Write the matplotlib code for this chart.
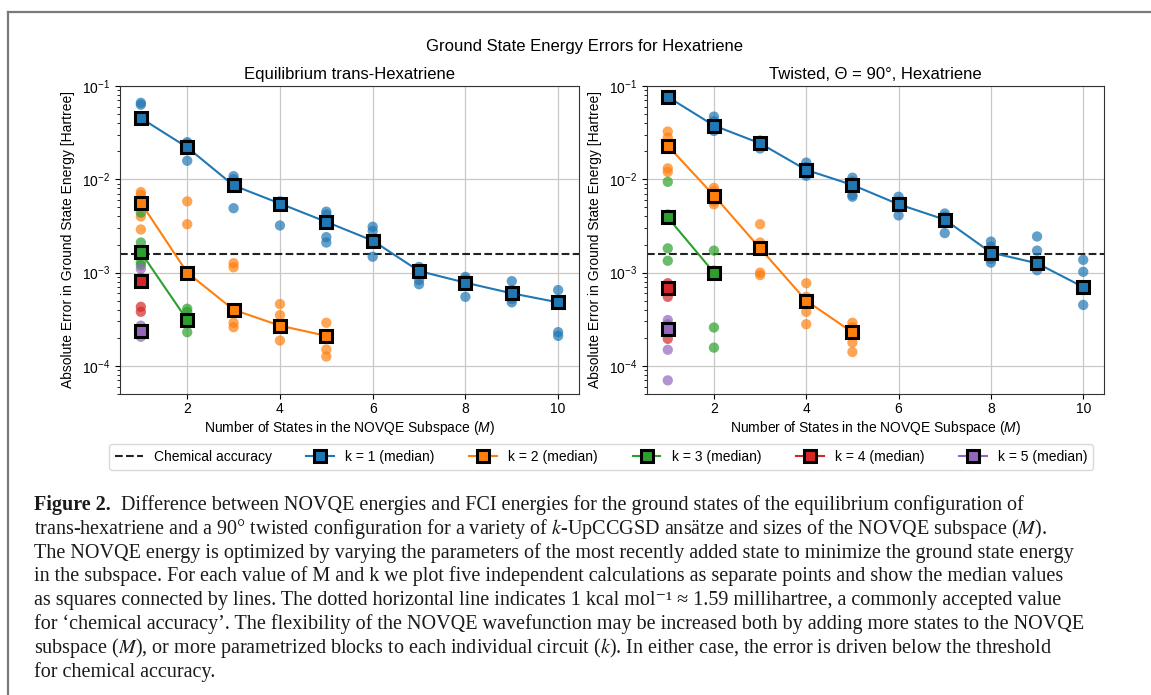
import numpy as np
import matplotlib
matplotlib.use("Agg")
import matplotlib.pyplot as plt
from matplotlib.lines import Line2D

plt.rcParams['font.family'] = ['Liberation Sans', 'DejaVu Sans']
plt.rcParams['font.size'] = 10
plt.rcParams['mathtext.fontset'] = 'custom'
plt.rcParams['mathtext.rm'] = 'Liberation Sans'
plt.rcParams['mathtext.it'] = 'Liberation Sans:italic'
plt.rcParams['mathtext.bf'] = 'Liberation Sans:bold'

# ---------------- data ----------------
chem_acc = 0.0015936

M_k1 = [1, 2, 3, 4, 5, 6, 7, 8, 9, 10]
M_k2 = [1, 2, 3, 4, 5]
M_k3 = [1, 2]
M_k4 = [1]
M_k5 = [1]

# Equilibrium trans-hexatriene: five runs per M
eq_k1 = [[0.066, 0.063, 0.0453, 0.044, 0.043],
         [0.025, 0.024, 0.022, 0.021, 0.0158],
         [0.0108, 0.0100, 0.0086, 0.0083, 0.0049],
         [0.0058, 0.0056, 0.0055, 0.0054, 0.0032],
         [0.0045, 0.0042, 0.0035, 0.0024, 0.0021],
         [0.0031, 0.0028, 0.0022, 0.0021, 0.00148],
         [0.00115, 0.00108, 0.00104, 0.00083, 0.00075],
         [0.00090, 0.00085, 0.00078, 0.00075, 0.00055],
         [0.00081, 0.00065, 0.00060, 0.00052, 0.00048],
         [0.00065, 0.00050, 0.00048, 0.00023, 0.00021]]
eq_k2 = [[0.0073, 0.0068, 0.0056, 0.0040, 0.0029],
         [0.0058, 0.0033, 0.0010, 0.00098, 0.00095],
         [0.00126, 0.00114, 0.00040, 0.00029, 0.00026],
         [0.00046, 0.00035, 0.00027, 0.00025, 0.000187],
         [0.00029, 0.00022, 0.00021, 0.00015, 0.000126]]
eq_k3 = [[0.0044, 0.0021, 0.00165, 0.00129, 0.0012],
         [0.00041, 0.00038, 0.00031, 0.00029, 0.00023]]
eq_k4 = [[0.00088, 0.00083, 0.00081, 0.00043, 0.00038]]
eq_k5 = [[0.0011, 0.00027, 0.000235, 0.00022, 0.000205]]

# Twisted (90 deg) hexatriene
tw_k1 = [[0.080, 0.078, 0.0764, 0.075, 0.074],
         [0.047, 0.042, 0.0377, 0.035, 0.033],
         [0.026, 0.025, 0.0243, 0.023, 0.0214],
         [0.0151, 0.0135, 0.0126, 0.0115, 0.0109],
         [0.0104, 0.0095, 0.0087, 0.0068, 0.0065],
         [0.0065, 0.0058, 0.0054, 0.0050, 0.0041],
         [0.0043, 0.0040, 0.0037, 0.0034, 0.00265],
         [0.00215, 0.0019, 0.00164, 0.0014, 0.00128],
         [0.00244, 0.00172, 0.00126, 0.0012, 0.00106],
         [0.00137, 0.00102, 0.00070, 0.00066, 0.00045]]
tw_k2 = [[0.0325, 0.028, 0.0229, 0.0131, 0.012],
         [0.0081, 0.0075, 0.0067, 0.0058, 0.0054],
         [0.0033, 0.0021, 0.00182, 0.00100, 0.00094],
         [0.00077, 0.00055, 0.00050, 0.00038, 0.00028],
         [0.00029, 0.00026, 0.000229, 0.000178, 0.000141]]
tw_k3 = [[0.0094, 0.0042, 0.0039, 0.00182, 0.00134],
         [0.00172, 0.00105, 0.00100, 0.000258, 0.000157]]
tw_k4 = [[0.00077, 0.00072, 0.00068, 0.00055, 0.000195]]
tw_k5 = [[0.00031, 0.00028, 0.00025, 0.000149, 0.00007]]

k_labels = ['k = 1 (median)', 'k = 2 (median)', 'k = 3 (median)',
            'k = 4 (median)', 'k = 5 (median)']
colors = ['tab:blue', 'tab:orange', 'tab:green', 'tab:red', 'tab:purple']

suptitle = 'Ground State Energy Errors for Hexatriene'
titles = ['Equilibrium trans-Hexatriene', 'Twisted, Θ = 90°, Hexatriene']
xlabel = 'Number of States in the NOVQE Subspace ($M$)'
ylabel = 'Absolute Error in Ground State Energy [Hartree]'

caption_lines = [
    "Difference between NOVQE energies and FCI energies for the ground states of the equilibrium configuration of",
    "trans-hexatriene and a 90° twisted configuration for a variety of $k$-UpCCGSD ansätze and sizes of the NOVQE subspace ($M$).",
    "The NOVQE energy is optimized by varying the parameters of the most recently added state to minimize the ground state energy",
    "in the subspace. For each value of M and k we plot five independent calculations as separate points and show the median values",
    "as squares connected by lines. The dotted horizontal line indicates 1 kcal mol⁻¹ ≈ 1.59 millihartree, a commonly accepted value",
    "for ‘chemical accuracy’. The flexibility of the NOVQE wavefunction may be increased both by adding more states to the NOVQE",
    "subspace ($M$), or more parametrized blocks to each individual circuit ($k$). In either case, the error is driven below the threshold",
    "for chemical accuracy.",
]

# ---------------- figure ----------------
W, H = 1151, 695
fig = plt.figure(figsize=(W / 100, H / 100), dpi=100)


def fx(x):
    return x / W


def fy(y):
    return 1 - y / H


ax_l = fig.add_axes([fx(120), fy(394), fx(579) - fx(120), fy(86) - fy(394)])
ax_r = fig.add_axes([fx(647), fy(394), fx(1104) - fx(647), fy(86) - fy(394)])

panels = [
    (ax_l, [eq_k1, eq_k2, eq_k3, eq_k4, eq_k5]),
    (ax_r, [tw_k1, tw_k2, tw_k3, tw_k4, tw_k5]),
]
Ms = [M_k1, M_k2, M_k3, M_k4, M_k5]

handles = []
for ai, (ax, series) in enumerate(panels):
    hl = ax.axhline(chem_acc, color='#222222', ls='--', lw=1.5, zorder=2,
                    label='Chemical accuracy')
    if ai == 0:
        handles.append(hl)
    for ki, (Mv, runs) in enumerate(zip(Ms, series)):
        c = colors[ki]
        for m, vals in zip(Mv, runs):
            ax.scatter([m] * len(vals), vals, s=55, color=c, alpha=0.7,
                       edgecolors='none', zorder=3)
        med = [np.median(v) for v in runs]
        ln, = ax.plot(Mv, med, '-', color=c, lw=1.5, marker='s', ms=9,
                      mfc=c, mec='black', mew=2.2, zorder=4, label=k_labels[ki])
        if ai == 0:
            handles.append(ln)
    ax.set_yscale('log')
    ax.set_ylim(5e-5, 0.1)
    ax.set_xlim(0.55, 10.45)
    ax.set_xticks([2, 4, 6, 8, 10])
    ax.grid(True, which='major', color='#c8c8c8', lw=0.9)
    ax.set_axisbelow(True)
    ax.set_title(titles[ai], fontsize=12, pad=5)
    ax.set_xlabel(xlabel, fontsize=10, labelpad=2)
    ax.set_ylabel(ylabel, fontsize=10, labelpad=5)
    ax.tick_params(labelsize=10)
    ax.tick_params(axis='x', pad=2.5)
    for sp in ax.spines.values():
        sp.set_color('#333333')

fig.text(fx(585), fy(47), suptitle, ha='center', va='center', fontsize=12)

fig.legend(handles=handles, loc='center', ncol=6,
           bbox_to_anchor=(fx(601), fy(457)), fontsize=10,
           columnspacing=2.5, frameon=True, edgecolor='#d0d0d0')

# frame lines
fig.add_artist(Line2D([fx(8), 1.0], [fy(12), fy(12)], transform=fig.transFigure,
                      color='#7a7a7a', lw=1.6))
fig.add_artist(Line2D([fx(8), fx(8)], [fy(12), 0.0], transform=fig.transFigure,
                      color='#7a7a7a', lw=1.6))

# caption
cap_font = dict(family=['Liberation Serif', 'DejaVu Serif'], size=14.5,
                color='#1a1a1a')
renderer = fig.canvas.get_renderer()
y0 = 505
for i, line in enumerate(caption_lines):
    yy = y0 + i * 23.8
    if i == 0:
        tb = fig.text(fx(34), fy(yy), 'Figure 2.', ha='left', va='center',
                      fontweight='bold', **cap_font)
        bb = tb.get_window_extent(renderer=renderer)
        x0 = bb.x1 + 10
    else:
        x0 = 34
    t = fig.text(fx(x0), fy(yy), line, ha='left', va='center', **cap_font)
    t.set_math_fontfamily('stix')

fig.savefig('out.png', dpi=100)
